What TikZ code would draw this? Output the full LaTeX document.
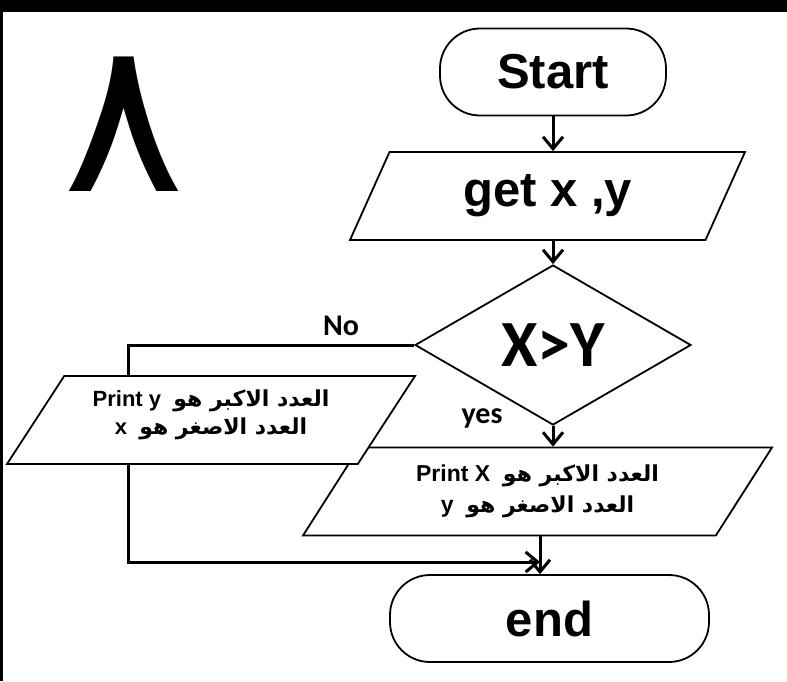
\documentclass[tikz,border=0pt]{standalone}
\usepackage{fontspec}
\setmainfont{Liberation Sans}
\newfontfamily\arabicfont[Script=Arabic]{DejaVu Sans}
\newfontfamily\calfont{Carlito}
\TeXXeTstate=1
\usetikzlibrary{shapes.geometric,arrows.meta}
\newcommand{\artext}[1]{{\arabicfont\fontsize{22}{31}\selectfont #1}}

\begin{document}
\begin{tikzpicture}[x=1pt, y=-1pt,
  term/.style={draw, line width=1.8pt, rounded corners=40pt, minimum height=87pt, font=\fontsize{49}{50}\selectfont\bfseries},
  io/.style={draw, fill=white, line width=1.8pt, trapezium, trapezium stretches body, minimum height=88pt, inner sep=0pt, align=center},
  conn/.style={line width=3pt, -{Straight Barb[length=12pt,width=20pt]}},
  lbl/.style={font=\calfont\bfseries\fontsize{30}{30}\selectfont}]
\useasboundingbox (0,0) rectangle (787,681);
\fill (0,0) rectangle (787,12);
\fill (0,0) rectangle (3,681);
\node[font=\arabicfont\fontsize{212}{212}\selectfont, xscale=1.08, transform shape] (eight) at (124,124) {٨};
\node[term, minimum width=226pt] (start) at (553,72) {Start};
\node[io, trapezium left angle=47, trapezium right angle=133, minimum width=395pt, font=\fontsize{49}{50}\selectfont\bfseries] (get) at (547.5,196) {get x ,y};
\node[draw, line width=1.8pt, diamond, shape aspect=1.7, inner sep=0pt, minimum width=276pt, minimum height=160pt, font=\calfont\bfseries\fontsize{66}{66}\selectfont] (dec) at (553,345) {X>Y};
\node[io, trapezium left angle=43.4, trapezium right angle=136.6, minimum width=469pt, font=\fontsize{23}{31}\selectfont\bfseries] (px) at (537.5,491.5)
  {\beginR\artext{العدد الاكبر هو}\ \ \beginL Print X\endL\endR\\
   \beginR\artext{العدد الاصغر هو}\ \ y\endR};
\node[term, minimum width=319pt] (end) at (549.5,618.5) {end};
\node[lbl] (no) at (341,326) {No};
\node[lbl] (yes) at (482,418) {yes};
\coordinate (nobend) at (128,345);
\coordinate (join) at (540,562);
\draw[conn] (dec.west) -- (nobend) |- (join);
\node[io, trapezium left angle=46.7, trapezium right angle=133.3, minimum width=408pt, font=\fontsize{22}{28}\selectfont\bfseries] (py) at (211,420)
  {\beginR\artext{العدد الاكبر هو}\ \ \beginL Print y\endL\endR\\
   \beginR\artext{العدد الاصغر هو}\ \ x\endR\\[-12pt]\mbox{}};
\draw[conn] (start.south) -- (start.south |- get.north);
\draw[conn] (dec.north |- get.south) -- (dec.north);
\draw[conn] (dec.south) -- (dec.south |- px.north);
\draw[conn] (join |- px.south) -- (join |- end.north);
\end{tikzpicture}
\end{document}
